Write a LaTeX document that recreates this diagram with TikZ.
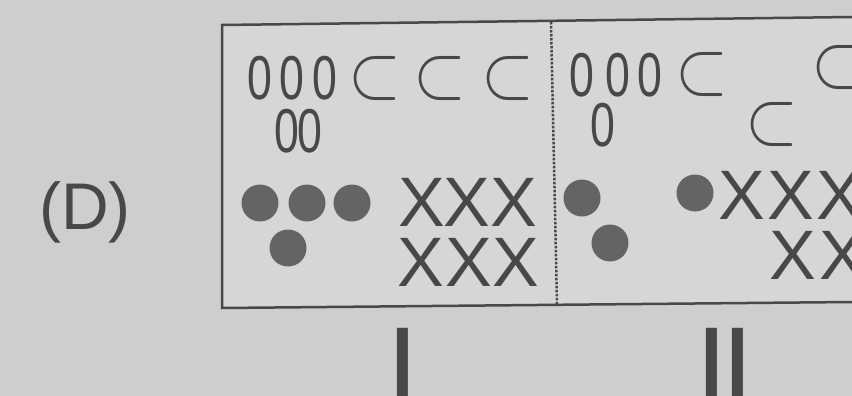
\documentclass[tikz,border=0pt]{standalone}
\usepackage{fontspec}
\setmainfont{Liberation Sans}
\usepackage{graphicx}
\definecolor{bg}{RGB}{206,206,206}
\definecolor{panel}{RGB}{214,214,214}
\definecolor{ink}{RGB}{72,72,72}
\definecolor{dotc}{RGB}{100,100,100}
\tikzset{
  zero/.style={inner sep=0pt, text=ink, font=\fontsize{62}{64}\selectfont},
  subs/.style={inner sep=0pt, text=ink},
  cross/.style={inner sep=0pt, text=ink, font=\fontsize{70}{72}\selectfont},
  dot/.style={circle, fill=dotc, minimum size=37pt, inner sep=0pt},
  roman/.style={inner sep=0pt, anchor=north, text=ink, font=\fontsize{118}{118}\selectfont},
  frame/.style={draw=ink, line width=2.5pt},
}
\newcommand{\zz}{\scalebox{0.72}[1]{0}}
\newcommand{\ssub}{\scalebox{6.8}[7.6]{$\subset$}}
\begin{document}
\begin{tikzpicture}[x=1pt,y=-1pt]
\fill[bg] (0,0) rectangle (852,396);
\useasboundingbox (0,0) rectangle (852,396);
\clip (0,0) rectangle (852,396);
\fill[panel] (222,25) -- (852,17) -- (852,302) -- (222,308) -- cycle;
\draw[frame] (852,17) -- (222,25) -- (222,308) -- (852,302);
\draw[ink, line width=2.5pt, dash pattern=on 2.5pt off 1.5pt] (551,22) -- (557,305);
% label
\node[inner sep=0pt, text=ink, font=\fontsize{66}{70}\selectfont] (lab) at (85,212) {(D)};
% roman numerals
\node[roman] (r1) at (403,328) {I};
\node[roman] (r2) at (725,328) {I\kern-6.5pt I};
% left compartment
\foreach \x/\y [count=\i] in {260/78, 292/78, 325/78, 287/131, 310/131}
  \node[zero] (lz\i) at (\x,\y) {\zz};
\foreach \x/\y [count=\i] in {375/78, 440/78, 508/78}
  \node[subs] (ls\i) at (\x,\y) {\ssub};
\foreach \x/\y [count=\i] in {260/203, 307/203, 352/203, 288/248}
  \node[dot] (ld\i) at (\x,\y) {};
\foreach \x/\y [count=\i] in {422/202, 467/202, 514/202, 421/262, 469/262, 516/262}
  \node[cross] (lx\i) at (\x,\y) {X};
% right compartment
\foreach \x/\y [count=\i] in {582/75, 618/75, 650/75, 603/125}
  \node[zero] (rz\i) at (\x,\y) {\zz};
\foreach \x/\y [count=\i] in {702/74, 838/68, 772/124}
  \node[subs] (rs\i) at (\x,\y) {\ssub};
\foreach \x/\y [count=\i] in {582/198, 610/243, 695/193}
  \node[dot] (rd\i) at (\x,\y) {};
\foreach \x/\y [count=\i] in {742/195, 791/195, 840/195, 793/255, 843/255}
  \node[cross] (rx\i) at (\x,\y) {X};
\end{tikzpicture}
\end{document}
